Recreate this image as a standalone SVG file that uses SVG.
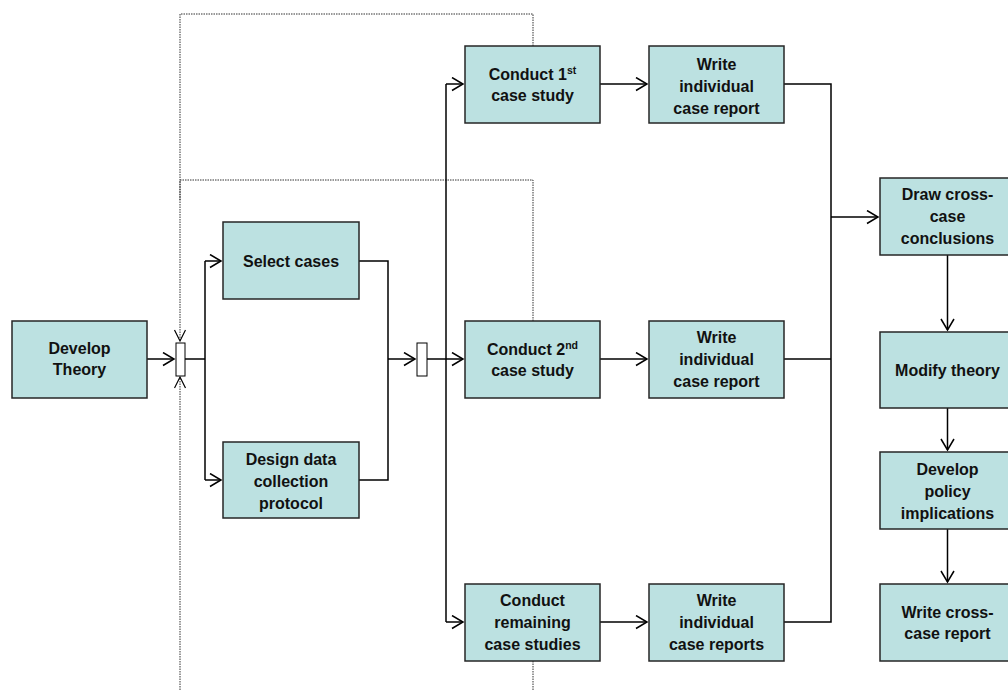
<svg xmlns="http://www.w3.org/2000/svg" width="1008" height="690" viewBox="0 0 1008 690">
  <defs>
    <style>
      .box { fill: #bce1e1; stroke: #262626; stroke-width: 1.5; }
      .gate { fill: #ffffff; stroke: #000000; stroke-width: 1; }
      .lbl { font-family: "Liberation Sans", Arial, sans-serif; font-size: 16px; font-weight: bold; fill: #111111; text-anchor: middle; }
      .sup { font-size: 10.5px; }
      .flow { fill: none; stroke: #000000; stroke-width: 1.5; }
      .loop { fill: none; stroke: #333333; stroke-width: 1; stroke-dasharray: 1.5 1; }
    </style>
    <marker id="arrow" markerUnits="userSpaceOnUse" markerWidth="14" markerHeight="16" refX="12" refY="7" orient="auto">
      <path d="M1,0.5 L12,7 L1,13.5" fill="none" stroke="#000000" stroke-width="1.5"/>
    </marker>
    <marker id="arrow-thin" markerUnits="userSpaceOnUse" markerWidth="14" markerHeight="14" refX="12" refY="6" orient="auto">
      <path d="M1,0.5 L12,6 L1,11.5" fill="none" stroke="#000000" stroke-width="1.2"/>
    </marker>
  </defs>

  <!-- connectors -->
  <g id="connectors">
    <!-- feedback loops (dotted) -->
    <path class="loop" d="M533,46 V14 H180 V341" marker-end="url(#arrow-thin)"/>
    <path class="loop" d="M533,321 V180 H180 V200"/>
    <path class="loop" d="M180,690 V377" marker-end="url(#arrow-thin)"/>
    <path class="loop" d="M533,661 V690"/>

    <!-- theory to design -->
    <path class="flow" d="M147,359 H174" marker-end="url(#arrow)"/>
    <path class="flow" d="M185,359 H205"/>
    <path class="flow" d="M205,261 V480"/>
    <path class="flow" d="M205,261 H221" marker-end="url(#arrow)"/>
    <path class="flow" d="M205,480 H221" marker-end="url(#arrow)"/>
    <path class="flow" d="M359,261 H388 V480 H359"/>
    <path class="flow" d="M388,359 H415" marker-end="url(#arrow)"/>

    <!-- fan-out to case studies -->
    <path class="flow" d="M427,359 H463" marker-end="url(#arrow)"/>
    <path class="flow" d="M446,84 V622"/>
    <path class="flow" d="M446,84 H463" marker-end="url(#arrow)"/>
    <path class="flow" d="M446,622 H463" marker-end="url(#arrow)"/>

    <!-- case study to report -->
    <path class="flow" d="M600,84 H647" marker-end="url(#arrow)"/>
    <path class="flow" d="M600,359 H647" marker-end="url(#arrow)"/>
    <path class="flow" d="M600,622 H647" marker-end="url(#arrow)"/>

    <!-- reports converge -->
    <path class="flow" d="M784,84 H831 V622 H784"/>
    <path class="flow" d="M784,359 H831"/>
    <path class="flow" d="M831,217 H878" marker-end="url(#arrow)"/>

    <!-- cross-case column -->
    <path class="flow" d="M947.5,255 V330" marker-end="url(#arrow)"/>
    <path class="flow" d="M947.5,408 V450" marker-end="url(#arrow)"/>
    <path class="flow" d="M947.5,529 V582" marker-end="url(#arrow)"/>
  </g>

  <g id="develop-theory">
    <rect class="box" x="12" y="321" width="135" height="77"/>
    <text class="lbl" x="79.5" y="354">Develop</text>
    <text class="lbl" x="79.5" y="375">Theory</text>
  </g>

  <g id="gate-1">
    <rect class="gate" x="176" y="343" width="9" height="33"/>
  </g>

  <g id="select-cases">
    <rect class="box" x="223" y="222" width="136" height="77"/>
    <text class="lbl" x="291" y="267">Select cases</text>
  </g>

  <g id="design-protocol">
    <rect class="box" x="223" y="442" width="136" height="76"/>
    <text class="lbl" x="291" y="465">Design data</text>
    <text class="lbl" x="291" y="487">collection</text>
    <text class="lbl" x="291" y="509">protocol</text>
  </g>

  <g id="gate-2">
    <rect class="gate" x="417" y="343" width="10" height="33"/>
  </g>

  <g id="conduct-1">
    <rect class="box" x="465" y="46" width="135" height="77"/>
    <text class="lbl" x="532.5" y="80">Conduct 1<tspan class="sup" dy="-6">st</tspan></text>
    <text class="lbl" x="532.5" y="101">case study</text>
  </g>

  <g id="conduct-2">
    <rect class="box" x="465" y="321" width="135" height="77"/>
    <text class="lbl" x="532.5" y="355">Conduct 2<tspan class="sup" dy="-6">nd</tspan></text>
    <text class="lbl" x="532.5" y="376">case study</text>
  </g>

  <g id="conduct-remaining">
    <rect class="box" x="465" y="584" width="135" height="77"/>
    <text class="lbl" x="532.5" y="606">Conduct</text>
    <text class="lbl" x="532.5" y="628">remaining</text>
    <text class="lbl" x="532.5" y="650">case studies</text>
  </g>

  <g id="report-1">
    <rect class="box" x="649" y="46" width="135" height="77"/>
    <text class="lbl" x="716.5" y="70">Write</text>
    <text class="lbl" x="716.5" y="92">individual</text>
    <text class="lbl" x="716.5" y="114">case report</text>
  </g>

  <g id="report-2">
    <rect class="box" x="649" y="321" width="135" height="77"/>
    <text class="lbl" x="716.5" y="343">Write</text>
    <text class="lbl" x="716.5" y="365">individual</text>
    <text class="lbl" x="716.5" y="387">case report</text>
  </g>

  <g id="report-remaining">
    <rect class="box" x="649" y="584" width="135" height="77"/>
    <text class="lbl" x="716.5" y="606">Write</text>
    <text class="lbl" x="716.5" y="628">individual</text>
    <text class="lbl" x="716.5" y="650">case reports</text>
  </g>

  <g id="cross-case-conclusions">
    <rect class="box" x="880" y="178" width="135" height="77"/>
    <text class="lbl" x="947.5" y="200">Draw cross-</text>
    <text class="lbl" x="947.5" y="222">case</text>
    <text class="lbl" x="947.5" y="244">conclusions</text>
  </g>

  <g id="modify-theory">
    <rect class="box" x="880" y="332" width="135" height="76"/>
    <text class="lbl" x="947.5" y="376">Modify theory</text>
  </g>

  <g id="policy-implications">
    <rect class="box" x="880" y="452" width="135" height="77"/>
    <text class="lbl" x="947.5" y="475">Develop</text>
    <text class="lbl" x="947.5" y="497">policy</text>
    <text class="lbl" x="947.5" y="519">implications</text>
  </g>

  <g id="cross-case-report">
    <rect class="box" x="880" y="584" width="135" height="77"/>
    <text class="lbl" x="947.5" y="618">Write cross-</text>
    <text class="lbl" x="947.5" y="639">case report</text>
  </g>
</svg>
